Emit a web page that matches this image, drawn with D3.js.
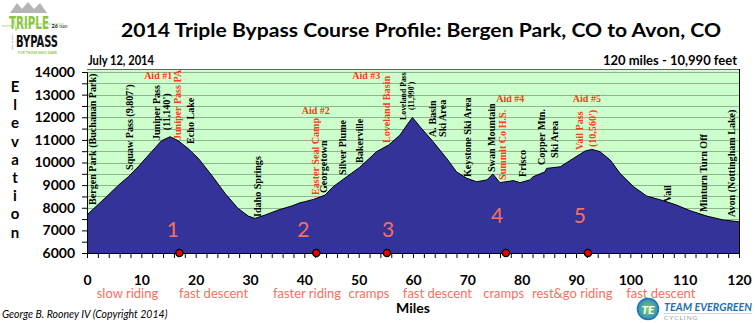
<!DOCTYPE html>
<html><head><meta charset="utf-8">
<script src="https://cdn.jsdelivr.net/npm/d3@7"></script>
<style>
html,body{margin:0;padding:0;background:#fff;}
svg{display:block;}
</style></head>
<body>
<svg id="c" width="755" height="324"></svg>
<script>
// ---------- data ----------
const miles = [0,1.5,3.3,5.8,7.6,9.4,11.9,13.7,15.3,16.8,18.6,20.5,22.9,25.4,27.8,29.7,30.9,32.8,35.2,37.7,39.2,40.1,41.7,43.8,45.3,47.8,50.2,53.3,55.5,57.6,59.1,59.9,61.3,63.7,66.2,68.0,69.9,71.7,73.6,74.7,76.0,78.5,79.7,81.5,82.1,84.3,84.6,87.1,89.5,91.7,92.9,94.4,96.3,98.1,100.6,103.0,106.1,108.5,111.0,114.1,117.1,120];
const elevation = [7680,8020,8420,9000,9370,9810,10480,10960,11140,10960,10620,10180,9450,8640,7970,7630,7530,7680,7900,8080,8220,8270,8370,8560,8930,9370,9790,10480,10770,11210,11730,11990,11580,10920,10180,9590,9300,9150,9230,9490,9110,9200,9110,9230,9370,9590,9740,9810,10180,10510,10580,10480,10110,9520,8930,8520,8310,8120,7870,7630,7460,7380];

const placeNames = ["Bergen Park (Buchanan Park)","Squaw Pass (9,807')","Juniper Pass","(11,140')","Juniper Pass PA","Echo Lake","Idaho Springs","Easter Seal Camp","Georgetown","Silver Plume","Bakerville","Loveland Basin","Loveland Pass","(11,990')","A. Basin","Ski Area","Keystone Ski Area","Swan Mountain","Summit Co H.S.","Frisco","Copper Mtn.","Ski Area","Vail Pass","(10,560')","Vail","Minturn Turn Off","Avon (Nottingham Lake)"];
const placeMiles = [1.1,7.9,12.7,14.7,16.7,19.1,31.3,42.1,43.6,47.1,50.2,55.2,58.2,59.8,63.5,65.5,70.1,74.4,76.4,80.2,83.7,86.0,90.6,93.1,106.9,113.4,118.7];
const placeElev = [8120,9670,10990,11430,10990,10820,7590,8560,8650,9450,9980,10860,11880,12320,11130,11130,9360,9580,9230,9360,9890,10200,10550,10680,8250,7810,7590];
const placeAid = [0,0,0,0,1,0,0,1,0,0,0,1,0,0,0,0,0,0,1,0,0,0,1,1,0,0,0];
const placeSmall = [0,0,0,0,0,0,0,0,0,0,0,0,1,1,0,0,0,0,0,0,0,0,0,0,0,0,0];

const aidNames = ["Aid #1","Aid #2","Aid #3","Aid #4","Aid #5"];
const aidMiles = [13.1,42.1,51.4,77.9,92.0];
const aidElev = [13690,12140,13690,12670,12670];

const segNumbers = ["1","2","3","4","5"];
const segNumMiles = [15.8,39.8,55.4,75.5,90.7];
const segNumElev = [6700,6700,6700,7330,7330];
const dotMiles = [17.0,42.2,55.2,77.1,92.2];

const segLabels = ["slow riding","fast descent","faster riding","cramps","fast descent","cramps","rest&go riding","fast descent"];
const segLabelMiles = [7.45,23.3,40.5,51.9,64.5,76.7,89.3,105.6];

const xTicks = [0,10,20,30,40,50,60,70,80,90,100,110,120];
const yTicks = [6000,7000,8000,9000,10000,11000,12000,13000,14000];

// ---------- layout ----------
const svg = d3.select("#c");
const L = 87, R = 739, T = 69, B = 253;
const x = d3.scaleLinear().domain([0,120]).range([L,R]);
const y = d3.scaleLinear().domain([6000,14000]).range([B,72]);
const SANS = "Lato, 'Open Sans', sans-serif";
const SERIF = "'Liberation Serif', 'Times New Roman', serif";
const RED = "#ff3a14";
const SALMON = "#f7705e";

// background
svg.append("rect").attr("x",L).attr("y",T).attr("width",R-L).attr("height",B-T).attr("fill","#ccffcc");
// gridlines every 500 ft
svg.append("g").selectAll("line").data(d3.range(6500,14001,500)).join("line")
  .attr("x1",L).attr("x2",R).attr("y1",d=>Math.round(y(d))+0.5).attr("y2",d=>Math.round(y(d))+0.5)
  .attr("stroke","#8fb48f").attr("stroke-width",1);

// area
const area = d3.area().x((d,i)=>x(miles[i])).y0(y(6000)).y1((d,i)=>y(d));
svg.append("path").datum(elevation).attr("d",area).attr("fill","#333399");
const line = d3.line().x((d,i)=>x(miles[i])).y((d,i)=>y(d));
svg.append("path").datum(elevation).attr("d",line).attr("fill","none").attr("stroke","#000").attr("stroke-width",1);

// frame
svg.append("line").attr("x1",L).attr("x2",R).attr("y1",T+0.5).attr("y2",T+0.5).attr("stroke","#666");
svg.append("line").attr("x1",R+0.5).attr("x2",R+0.5).attr("y1",T).attr("y2",B).attr("stroke","#000");

// axes
const yAxis = d3.axisLeft(y).tickValues(d3.range(6000,14001,500)).tickSize(5)
  .tickFormat(d=> yTicks.includes(d) ? d : "");
const gy = svg.append("g").attr("transform",`translate(${L},0)`).call(yAxis);
gy.select(".domain").attr("stroke","#000");
gy.selectAll("text").attr("font-family",SANS).attr("font-weight","bold").attr("font-size",14).attr("fill","#000").attr("x",-12);

const xAxis = d3.axisBottom(x).tickValues(d3.range(0,121,2)).tickSize(5)
  .tickFormat(d=> xTicks.includes(d) ? d : "");
const gx = svg.append("g").attr("transform",`translate(0,${B})`).call(xAxis);
gx.select(".domain").attr("stroke","#000");
gx.selectAll("text").attr("font-family",SANS).attr("font-weight","bold").attr("font-size",14).attr("fill","#000").attr("y",22);

// red dots
svg.append("g").selectAll("circle").data(dotMiles).join("circle")
  .attr("cx",d=>x(d)).attr("cy",y(6000)).attr("r",3.6).attr("fill","#e60000").attr("stroke","#000").attr("stroke-width",1.3);

// big segment numbers
svg.append("g").selectAll("text").data(segNumbers).join("text")
  .attr("x",(d,i)=>x(segNumMiles[i])).attr("y",(d,i)=>y(segNumElev[i]))
  .attr("text-anchor","middle").attr("font-family",SANS).attr("font-size",21).attr("fill",SALMON).text(d=>d);

// place labels (rotated)
svg.append("g").selectAll("text").data(placeNames).join("text")
  .attr("transform",(d,i)=>`translate(${x(placeMiles[i])},${y(placeElev[i])}) rotate(-90)`)
  .attr("dominant-baseline","central")
  .attr("font-family",SERIF).attr("font-weight","bold")
  .attr("font-size",(d,i)=>placeSmall[i]?7.8:10.1)
  .attr("fill",(d,i)=>placeAid[i]?RED:"#000").text(d=>d);

// aid labels
svg.append("g").selectAll("text").data(aidNames).join("text")
  .attr("x",(d,i)=>x(aidMiles[i])).attr("y",(d,i)=>y(aidElev[i]))
  .attr("text-anchor","middle").attr("font-family",SERIF).attr("font-weight","bold").attr("font-size",10)
  .attr("fill",RED).text(d=>d);

// segment descriptions
svg.append("g").selectAll("text").data(segLabels).join("text")
  .attr("x",(d,i)=>x(segLabelMiles[i])).attr("y",297.5)
  .attr("text-anchor","middle").attr("font-family",SANS).attr("font-size",13).attr("fill",SALMON).text(d=>d);

// titles
svg.append("text").attr("x",421).attr("y",37).attr("text-anchor","middle")
  .attr("font-family",SANS).attr("font-weight","bold").attr("font-size",19).attr("fill","#000")
  .attr("textLength",600).attr("lengthAdjust","spacingAndGlyphs")
  .text("2014 Triple Bypass Course Profile: Bergen Park, CO to Avon, CO");
svg.append("text").attr("x",88).attr("y",65).attr("font-family",SANS).attr("font-weight","bold").attr("font-size",12.5)
  .attr("textLength",66).attr("lengthAdjust","spacingAndGlyphs").text("July 12, 2014");
svg.append("text").attr("x",737).attr("y",65).attr("text-anchor","end").attr("font-family",SANS).attr("font-weight","bold").attr("font-size",13).text("120 miles - 10,990 feet");
svg.append("text").attr("x",413).attr("y",313).attr("text-anchor","middle").attr("font-family",SANS).attr("font-weight","bold").attr("font-size",14).text("Miles");
svg.append("text").attr("x",2).attr("y",318).attr("font-family",SANS).attr("font-style","italic").attr("font-size",10.5).text("George B. Rooney IV (Copyright 2014)");

// Elevation vertical
svg.append("g").selectAll("text").data("Elevation".split("")).join("text")
  .attr("x",15).attr("y",(d,i)=>92+i*18.2).attr("text-anchor","middle")
  .attr("font-family",SANS).attr("font-weight","bold").attr("font-size",15).text(d=>d);

// top-left logo
const COND = "'DejaVu Sans Condensed', 'Liberation Sans Narrow', sans-serif";
const lg = svg.append("g");
lg.append("path").attr("d","M10,13 L17,3 L22,9 L28,2 L34,9 L40,3 L47,13 Z").attr("fill","#b5b5b5");
lg.append("path").attr("d","M2,26 L12,26 L14,20 L16,31 L18,24 L64,24").attr("fill","none").attr("stroke","#9fd36a").attr("stroke-width",0.8);
lg.append("text").attr("transform","translate(9,29) scale(1,1.7)").attr("font-family",COND).attr("font-weight","bold").attr("font-size",10.5).attr("fill","#8cc63f").attr("textLength",40).attr("lengthAdjust","spacingAndGlyphs").text("TRIPLE");
const yrs = lg.append("text").attr("x",51.5).attr("y",27.5).attr("font-family",SANS).attr("fill","#222");
yrs.append("tspan").attr("font-weight","bold").attr("font-size",5.5).text("26");
yrs.append("tspan").attr("font-size",2.8).attr("dx",1).text("YEARS");
lg.append("text").attr("transform","translate(16,47) scale(1,1.6)").attr("font-family",COND).attr("font-weight","bold").attr("font-size",10).attr("fill","#111").attr("textLength",42).attr("lengthAdjust","spacingAndGlyphs").text("BYPASS");
lg.append("text").attr("transform","translate(13,50) rotate(-90)").attr("font-family",SANS).attr("font-size",2.6).attr("fill","#333").text("JULY 12 2014");
lg.append("text").attr("x",18).attr("y",54).attr("font-family",SANS).attr("font-weight","bold").attr("font-size",3.4).attr("fill","#8cc63f").attr("textLength",39).text("FOR THOSE WHO DARE");

// bottom-right logo
const br = svg.append("g");
const grad = svg.append("defs").append("radialGradient").attr("id","tg");
grad.append("stop").attr("offset","0%").attr("stop-color","#8fd14f");
grad.append("stop").attr("offset","100%").attr("stop-color","#2a8fc4");
br.append("circle").attr("cx",648).attr("cy",309).attr("r",10.5).attr("fill","url(#tg)").attr("stroke","#1f73b3").attr("stroke-width",1.5);
br.append("text").attr("x",648).attr("y",313.5).attr("text-anchor","middle").attr("font-family",SANS).attr("font-weight","bold").attr("font-style","italic").attr("font-size",12).attr("fill","#fff").text("TE");
br.append("text").attr("x",664).attr("y",310.5).attr("font-family",SANS).attr("font-weight","bold").attr("font-style","italic").attr("font-size",10.5).attr("fill","#1f6fb2").attr("textLength",88).attr("lengthAdjust","spacingAndGlyphs").text("TEAM EVERGREEN");
br.append("text").attr("x",664).attr("y",320).attr("font-family",SANS).attr("font-size",6.5).attr("fill","#999").attr("letter-spacing",1).text("CYCLING");
br.append("line").attr("x1",664).attr("x2",752).attr("y1",313.5).attr("y2",313.5).attr("stroke","#bbb").attr("stroke-width",0.6);
</script>
</body></html>
